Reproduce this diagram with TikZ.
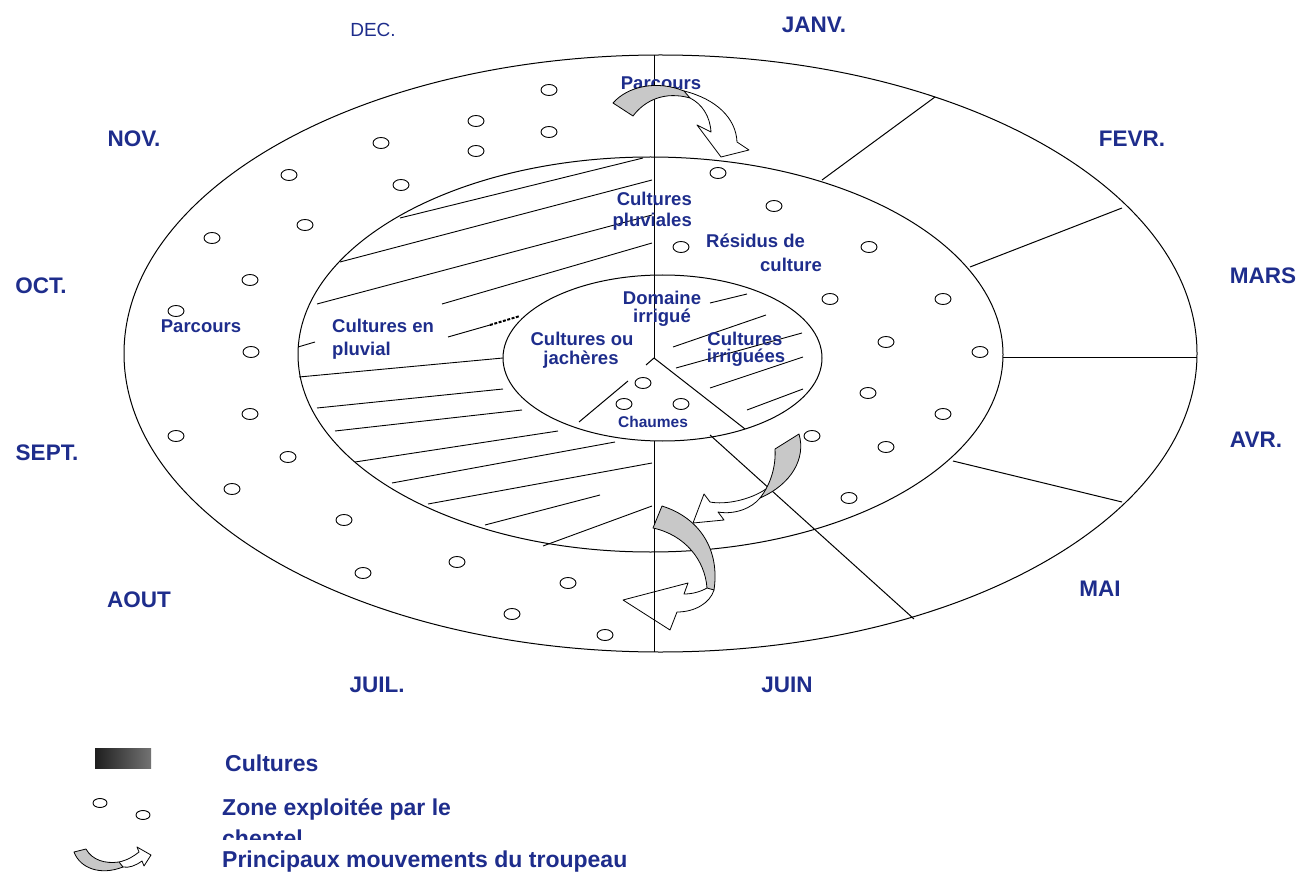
\documentclass[tikz,border=0pt]{standalone}
\usepackage{fontspec}
\setmainfont{Liberation Sans}
\definecolor{lblue}{RGB}{30,45,140}
\definecolor{ribbongray}{RGB}{200,200,200}
\tikzset{
  ring/.style={draw=black, line width=1pt},
  radial/.style={draw=black, line width=1pt},
  hatchline/.style={draw=black, line width=0.9pt},
  dotmark/.style={draw=black, line width=0.9pt},
  month/.style={text=lblue, font=\fontsize{22.5}{26}\selectfont\bfseries, inner sep=0pt},
  monththin/.style={text=lblue, font=\fontsize{19}{22}\selectfont, inner sep=0pt},
  zone/.style={text=lblue, font=\fontsize{18.5}{21}\selectfont\bfseries, inner sep=0pt},
  zonesmall/.style={text=lblue, font=\fontsize{15.5}{18}\selectfont\bfseries, inner sep=0pt},
  legendtext/.style={text=lblue, font=\fontsize{23}{26}\selectfont\bfseries, inner sep=0pt, anchor=base west},
  ribbon/.style={fill=ribbongray, draw=black, line width=0.8pt, line join=round},
  ribbonback/.style={draw=black, line width=0.8pt, line join=round}
}
\begin{document}
\begin{tikzpicture}[x=1pt, y=-1pt]
\useasboundingbox (0,0) rectangle (1301,877);
\fill[white] (0,0) rectangle (1301,877);

% concentric zones
\draw[ring] (660.5,353.5) ellipse [x radius=536.5pt, y radius=298.5pt];
\draw[ring] (650.5,354.5) ellipse [x radius=352.5pt, y radius=197.5pt];
\draw[ring] (662.5,358) ellipse [x radius=159.5pt, y radius=83pt];

% spokes of the calendar
\coordinate (hub) at (654,358);
\draw[radial] (654,55) -- (hub);
\draw[radial] (654,441) -- (654,652);
\draw[radial] (hub) -- (745,429);
\draw[radial] (hub) -- (646,365);
\draw[radial] (628,381) -- (579,422);
\draw[radial] (710,435) -- (914,619);
\draw[radial] (822,180) -- (935,97);
\draw[radial] (970,267) -- (1122,208);
\draw[radial] (1003,357) -- (1197,357);
\draw[radial] (953,461) -- (1122,502);

% rainfed crops hatching
\draw[hatchline] (400,218) -- (643,158);
\draw[hatchline] (340,262) -- (652,180);
\draw[hatchline] (317,304) -- (652,215);
\draw[hatchline] (442,304) -- (652,243);
\draw[hatchline] (448,337) -- (490,325);
\draw[draw=black, line width=2pt, dash pattern=on 3pt off 1.5pt] (490,325) -- (520,316);
\draw[hatchline] (298,347) -- (315,342);
\draw[hatchline] (299,377) -- (503,358);
\draw[hatchline] (317,408) -- (503,389);
\draw[hatchline] (335,431) -- (522,410);
\draw[hatchline] (355,462) -- (558,431);
\draw[hatchline] (392,483) -- (615,442);
\draw[hatchline] (428,504) -- (652,463);
\draw[hatchline] (485,525) -- (600,495);
\draw[hatchline] (543,546) -- (652,506);

% irrigated crops hatching
\draw[hatchline] (710,303) -- (747,294);
\draw[hatchline] (673,347) -- (766,315);
\draw[hatchline] (676,368) -- (802,333);
\draw[hatchline] (710,388) -- (803,357);
\draw[hatchline] (747,410) -- (803,389);

% grazed areas
\foreach \p in {(549,90),(476,121),(549,132),(381,143),(476,151),(289,175),
                (401,185),(305,225),(212,238),(250,280),(176,311),(251,352),
                (250,414),(176,436),(288,457),(232,489),(344,520),(457,562),
                (363,573),(568,583),(512,614),(605,635),
                (718,173),(774,206),(681,247),(869,247),(830,299),(943,299),
                (886,342),(980,352),(868,393),(943,414),(812,436),(886,447),
                (849,498),(643,383),(624,404),(681,404)}
  \draw[dotmark] \p ellipse [x radius=8pt, y radius=5.5pt];

% months
\node[monththin] (dec) at (373,30) {DEC.};
\node[month] (janv) at (814,25) {JANV.};
\node[month] (nov) at (134,139) {NOV.};
\node[month] (fevr) at (1132,139) {FEVR.};
\node[month] (oct) at (41,286) {OCT.};
\node[month] (mars) at (1263,276) {MARS};
\node[month] (sept) at (47,453) {SEPT.};
\node[month] (avr) at (1256,440) {AVR.};
\node[month] (aout) at (139,600) {AOUT};
\node[month] (mai) at (1100,589) {MAI};
\node[month] (juil) at (377,685) {JUIL.};
\node[month] (juin) at (787,685) {JUIN};

% zone labels
\node[zone, anchor=base] (parcTop) at (661,90) {Parcours};
\node[zone, anchor=base] (parcLeft) at (201,332) {Parcours};
\node[zone, anchor=base east] (pluvA) at (692,206) {Cultures};
\node[zone, anchor=base east] (pluvB) at (692,227) {pluviales};
\node[zone, anchor=base west] (resA) at (706,248) {Résidus de};
\node[zone, anchor=base west] (resB) at (760,272) {culture};
\node[zone, anchor=base west] (enA) at (332,332) {Cultures en};
\node[zone, anchor=base west] (enB) at (332,355) {pluvial};
\node[zone, anchor=base] (domA) at (662,305) {Domaine};
\node[zone, anchor=base] (domB) at (662,323) {irrigué};
\node[zone, anchor=base] (jacA) at (582,345) {Cultures ou};
\node[zone, anchor=base] (jacB) at (581,364) {jachères};
\node[zone, anchor=base] (irrA) at (745,345) {Cultures};
\node[zone, anchor=base] (irrB) at (746,362) {irriguées};
\node[zonesmall, anchor=base] (chaumes) at (653,427) {Chaumes};

% herd movements: top
\draw[ribbon] (613,103) .. controls (628,86) and (657,80) .. (684,91)
  -- (690,98) .. controls (665,91) and (645,100) .. (633,116) -- cycle;
\draw[ribbonback] (684,91) .. controls (716,99) and (736,118) .. (737,142)
  -- (749,150) -- (721,157) -- (697,125) -- (711,132)
  .. controls (710,116) and (702,104) .. (690,98);

% herd movements: middle
\draw[ribbon] (775,449) -- (799,434) .. controls (806,458) and (792,484) .. (760,498)
  .. controls (771,484) and (776,466) .. (775,449) -- cycle;
\draw[ribbonback] (766,489) .. controls (750,500) and (725,505) .. (710,502)
  -- (704,494) -- (693,523) -- (724,520) -- (718,512)
  .. controls (735,515) and (752,508) .. (760,498);

% herd movements: bottom
\draw[ribbon] (653,528) -- (662,506) .. controls (700,518) and (720,550) .. (714,590)
  -- (707,588) .. controls (705,560) and (685,535) .. (653,528) -- cycle;
\draw[ribbonback] (707,588) .. controls (700,592) and (692,594) .. (684,594)
  -- (688,583) -- (623,600) -- (670,630) -- (677,612)
  .. controls (695,612) and (710,603) .. (714,590);

% legend
\shade[left color=black!88, right color=black!55] (95,748) rectangle (151,768);
\node[legendtext] (legCult) at (225,771) {Cultures};
\draw[dotmark] (100,803) ellipse [x radius=7pt, y radius=4.5pt];
\draw[dotmark] (143,815) ellipse [x radius=7pt, y radius=4.5pt];
\node[legendtext] (legZone) at (222,815) {Zone exploitée par le};
\node[legendtext] (legChep) at (222,846) {cheptel};
\fill[white] (60,840) rectangle (700,877);
\draw[ribbon] (74,852) -- (86,849) .. controls (92,860) and (105,864) .. (119,862)
  -- (123,867) .. controls (100,876) and (80,868) .. (74,852) -- cycle;
\draw[ribbonback] (119,862) .. controls (128,860) and (134,856) .. (139,852)
  -- (137,847) -- (151,855) -- (144,866) -- (142,861)
  .. controls (135,866) and (129,868) .. (123,867);
\node[legendtext] (legMove) at (222,867) {Principaux mouvements du troupeau};
\end{tikzpicture}
\end{document}
